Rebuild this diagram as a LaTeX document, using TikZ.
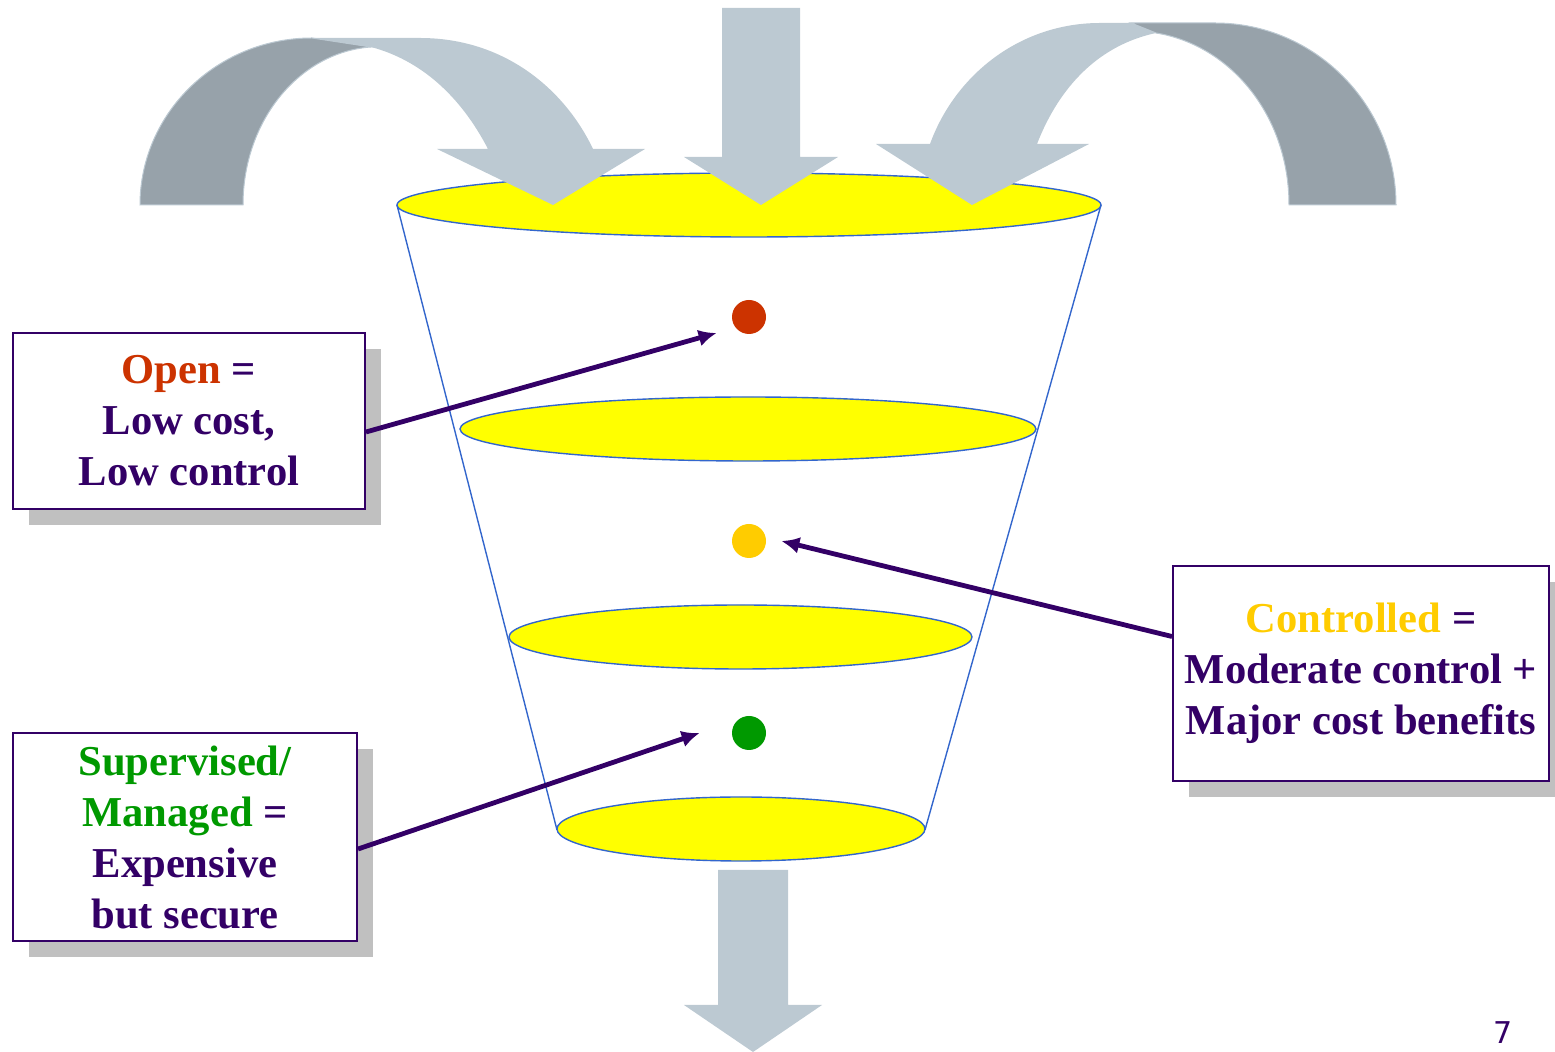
\documentclass[tikz,border=0pt]{standalone}
\usepackage{fontspec}
\setmainfont{Liberation Serif}
\newfontfamily\pagenofont{DejaVu Sans}
\usetikzlibrary{arrows.meta,shadows}
\definecolor{ink}{HTML}{330066}
\definecolor{openred}{HTML}{CC3300}
\definecolor{ctrlgold}{HTML}{FFCC00}
\definecolor{supgreen}{HTML}{009900}
\definecolor{rimblue}{HTML}{3366CC}
\definecolor{discyellow}{HTML}{FFFF00}
\definecolor{bandlight}{HTML}{BCC9D2}
\definecolor{banddark}{HTML}{97A2AA}
\definecolor{boxshadow}{HTML}{C0C0C0}

\begin{document}
\begin{tikzpicture}[x=0.5pt, y=-0.5pt,
  infobox/.style={draw=ink, line width=1pt, fill=white, align=center, inner sep=0pt,
    text=ink, font=\bfseries\fontsize{21.3}{25.5}\selectfont,
    drop shadow={shadow xshift=8pt, shadow yshift=-8pt, fill=boxshadow, opacity=1}},
  pointer/.style={draw=ink, line width=2.4pt, -{Latex[length=9pt,width=8.5pt]}},
  dot/.style={circle, inner sep=0pt, minimum size=17pt},
  disc/.style={draw=rimblue, line width=0.7pt, fill=discyellow},
  rim/.style={draw=rimblue, line width=0.7pt},
  front/.style={fill=bandlight},
  back/.style={fill=banddark, draw=bandlight, line width=0.5pt}]
\useasboundingbox (0,0) rectangle (1555,1052);

% funnel
\draw[disc] (749,205) ellipse [x radius=176pt, y radius=16pt];
\draw[rim] (397,205) -- (557,830);
\draw[rim] (1101,205) -- (925,830);
\draw[disc] (748,429) ellipse [x radius=144pt, y radius=16pt];
\draw[disc] (740.5,637) ellipse [x radius=115.75pt, y radius=16pt];
\draw[disc] (741,829) ellipse [x radius=92pt, y radius=16pt];

% big arrows in and out
\path[back] (140,205) -- (243,205) .. controls (243,120) and (300,52) .. (371,47)
  -- (312,38) .. controls (217,38) and (140,113) .. (140,205) -- cycle;
\path[front] (312,38) -- (420,38) .. controls (505,38) and (565,90) .. (593,149)
  -- (645,149) -- (553,205) -- (437,149) -- (488,149)
  .. controls (460,95) and (420,60) .. (371,47) -- cycle;
\path[back] (1131,23) -- (1215,23) .. controls (1315,23) and (1396,105) .. (1396,205)
  -- (1289,205) .. controls (1289,115) and (1230,45) .. (1156,33) -- cycle;
\path[front] (1131,23) -- (1100,23) .. controls (1020,23) and (955,75) .. (930,144)
  -- (876,144) -- (972,205) -- (1089,144) -- (1037,144)
  .. controls (1060,85) and (1100,45) .. (1156,33) -- cycle;
\path[front] (722,8) -- (800,8) -- (800,157) -- (838,157) -- (761,205)
  -- (684,157) -- (722,157) -- cycle;
\path[front] (718,870) -- (788,870) -- (788,1005) -- (822,1005) -- (753,1052)
  -- (684,1005) -- (718,1005) -- cycle;

% levels
\node[dot, fill=openred] (rdot) at (749,317) {};
\node[dot, fill=ctrlgold] (ydot) at (749,541) {};
\node[dot, fill=supgreen] (gdot) at (749,733) {};

\node[infobox, minimum width=176pt, minimum height=88pt] (open) at (189,421)
  {{\color{openred}Open} =\\Low cost,\\Low control};
\node[infobox, minimum width=188pt, minimum height=107.5pt] (ctrl) at (1361,673.5)
  {{\color{ctrlgold}Controlled} =\\Moderate control +\\Major cost benefits};
\node[infobox, minimum width=172pt, minimum height=104pt] (sup) at (185,837)
  {{\color{supgreen}Supervised/}\\{\color{supgreen}Managed} =\\Expensive\\but secure};

\draw[pointer] ([yshift=-5.5pt]open.east) -- ([xshift=-7.5pt,yshift=-8pt]rdot.west);
\draw[pointer] ([yshift=18.5pt]ctrl.west) -- ([xshift=7.5pt]ydot.east);
\draw[pointer] ([yshift=-6pt]sup.east) -- ([xshift=-16pt]gdot.west);

\node[text=ink, font=\pagenofont\fontsize{15}{18}\selectfont] (pageno) at (1503,1033) {7};
\end{tikzpicture}
\end{document}
